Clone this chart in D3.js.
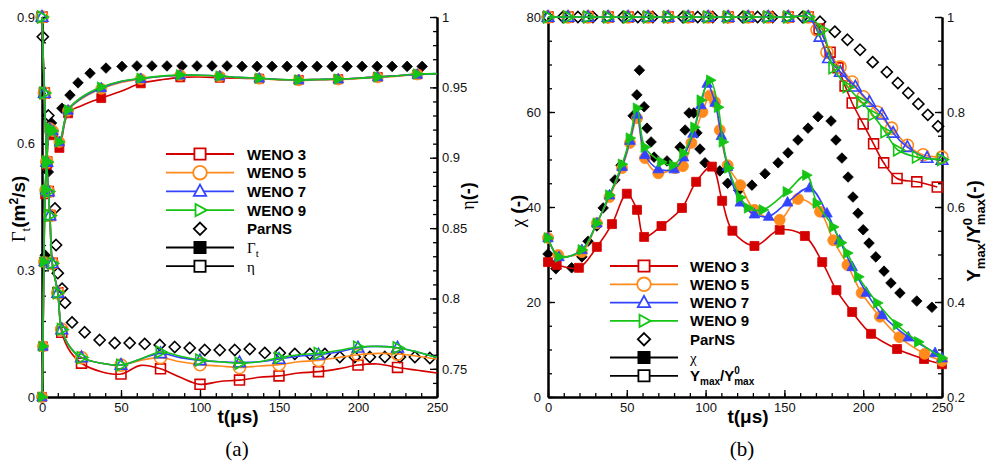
<!DOCTYPE html>
<html><head><meta charset="utf-8">
<script src="https://cdn.jsdelivr.net/npm/d3@7"></script>
<style>body{margin:0;background:#fff}svg{display:block}</style>
</head><body><svg id="c" width="993" height="462"></svg>
<script>
// ---------------- DATA: panel (a) ----------------
const tGammaWeno = [0, 0.6, 1.2, 2, 3, 5, 7, 9, 11, 16.5, 25, 37.5, 50, 62.5, 75, 87.5, 100, 112.5, 125, 137.5, 150, 162.5, 175, 187.5, 200, 212.5, 225, 237.5, 250];
const gammaW3 = [0, 0.12, 0.32, 0.48, 0.55, 0.63, 0.62, 0.60, 0.59, 0.672, 0.69, 0.708, 0.724, 0.743, 0.751, 0.757, 0.758, 0.756, 0.755, 0.754, 0.752, 0.751, 0.752, 0.753, 0.755, 0.758, 0.761, 0.764, 0.765];
const gammaW5 = [0, 0.12, 0.32, 0.49, 0.557, 0.637, 0.63, 0.61, 0.604, 0.678, 0.706, 0.73, 0.745, 0.753, 0.759, 0.762, 0.761, 0.759, 0.756, 0.754, 0.751, 0.750, 0.751, 0.752, 0.754, 0.757, 0.760, 0.764, 0.765];
const gammaW7 = [0, 0.12, 0.32, 0.49, 0.557, 0.637, 0.63, 0.61, 0.604, 0.679, 0.708, 0.732, 0.747, 0.754, 0.759, 0.762, 0.762, 0.760, 0.757, 0.755, 0.752, 0.751, 0.752, 0.753, 0.755, 0.758, 0.761, 0.764, 0.766];
const gammaW9 = [0, 0.12, 0.32, 0.49, 0.557, 0.637, 0.63, 0.61, 0.604, 0.68, 0.71, 0.734, 0.748, 0.755, 0.76, 0.763, 0.762, 0.760, 0.757, 0.755, 0.752, 0.751, 0.752, 0.753, 0.755, 0.758, 0.761, 0.765, 0.766];
const gammaMarkT = [0, 0.6, 1.2, 2, 3, 5, 7, 11, 16.5, 37.5, 62.5, 87.5, 112.5, 137.5, 162.5, 187.5, 212.5, 237.5];

const tEtaWeno = [0, 1.5, 3, 4, 5, 6.5, 10, 12.5, 18, 25, 37.5, 50, 62.5, 75, 87.5, 100, 112.5, 125, 137.5, 150, 162.5, 175, 187.5, 200, 212.5, 225, 237.5, 250];
const etaW3 = [1.0, 0.946, 0.897, 0.876, 0.859, 0.825, 0.804, 0.776, 0.762, 0.754, 0.748, 0.7463, 0.7525, 0.750, 0.744, 0.739, 0.741, 0.742, 0.744, 0.745, 0.747, 0.748, 0.750, 0.7527, 0.7535, 0.751, 0.749, 0.747];
const etaW5 = [1.0, 0.946, 0.897, 0.876, 0.859, 0.825, 0.804, 0.778, 0.765, 0.758, 0.754, 0.7527, 0.756, 0.758, 0.755, 0.753, 0.752, 0.751, 0.752, 0.753, 0.755, 0.756, 0.758, 0.760, 0.761, 0.7605, 0.759, 0.757];
const etaW7 = [1.0, 0.946, 0.897, 0.876, 0.859, 0.825, 0.804, 0.778, 0.765, 0.758, 0.754, 0.7527, 0.757, 0.761, 0.758, 0.756, 0.755, 0.7545, 0.755, 0.757, 0.759, 0.760, 0.762, 0.765, 0.766, 0.765, 0.762, 0.758];
const etaW9 = [1.0, 0.946, 0.897, 0.876, 0.859, 0.825, 0.804, 0.778, 0.765, 0.758, 0.754, 0.7527, 0.757, 0.762, 0.759, 0.7563, 0.755, 0.754, 0.755, 0.758, 0.760, 0.761, 0.763, 0.7655, 0.766, 0.765, 0.762, 0.758];
const etaMarkT = [0, 1.5, 3, 4, 5, 6.5, 10, 12.5, 25, 50, 75, 100, 125, 150, 175, 200, 225];

const tGammaPar = [0, 0.7, 2, 4, 6, 12.6, 17.7, 22.8, 30.4, 40.5, 50.6, 60.1, 69.6, 79.1, 88.6, 98.1, 107.6, 117.1, 126.6, 136.1, 145.6, 155.1, 164.6, 174.1, 183.6, 193.1, 202.6, 212.1, 221.6, 231.1, 240.6];
const gammaPar = [0, 0.12, 0.336, 0.533, 0.649, 0.684, 0.715, 0.744, 0.767, 0.779, 0.783, 0.784, 0.784, 0.784, 0.784, 0.784, 0.784, 0.784, 0.783, 0.783, 0.783, 0.783, 0.783, 0.783, 0.783, 0.783, 0.783, 0.783, 0.783, 0.783, 0.783];
const tEtaPar = [0.5, 4, 8.2, 8.9, 10, 12.7, 14.6, 19, 27, 36.5, 46, 55.5, 65, 74.5, 84, 93.5, 103, 112.5, 122, 131.5, 141, 150.5, 160, 169.5, 179, 188.5, 198, 207.5, 217, 226.5, 236, 245.5];
const etaPar = [0.986, 0.93, 0.864, 0.838, 0.818, 0.807, 0.797, 0.783, 0.776, 0.7705, 0.7684, 0.7684, 0.7677, 0.767, 0.7655, 0.7648, 0.7634, 0.7634, 0.7634, 0.7641, 0.7613, 0.7613, 0.7606, 0.7606, 0.7606, 0.7584, 0.7584, 0.7584, 0.7584, 0.7584, 0.7584, 0.7577];

// ---------------- DATA: panel (b) ----------------
const tChiW3 = [0, 5.5, 19.6, 31, 40.6, 50, 56.5, 61, 72, 85, 94, 104, 110.5, 117, 131, 147, 163, 174, 183, 193, 205, 221.5, 238.6, 250];
const chiW3 = [28.4, 27.8, 27.2, 31.6, 36.4, 42.8, 39.4, 33.7, 36, 39.8, 45.3, 48.5, 41.3, 35, 31.8, 35.2, 33.9, 28.4, 22.5, 17.9, 13.3, 10.1, 8.0, 6.9];
const tChiW5 = [0, 6.5, 21.5, 31, 39, 47, 52, 56.5, 61.5, 70, 80.6, 85.6, 91, 98, 102.8, 106, 109, 114, 122, 131, 147, 158.6, 172.6, 181, 190, 199, 210.6, 223, 239, 250];
const chiW5 = [33.5, 29.9, 30.5, 36.6, 42.1, 48.2, 53.5, 58.7, 50.3, 47.1, 48.2, 48.6, 53.5, 60, 63.5, 62.1, 56.2, 48.8, 44.6, 39.4, 37.3, 41.7, 39, 33, 27.8, 21.9, 16.9, 12.6, 9.1, 7.6];
const tChiW7 = [0, 7, 21.5, 31, 39, 47, 52, 56.5, 61.5, 70, 80, 86, 92, 97, 101, 106, 110, 114, 122, 131, 140, 152, 166, 177, 185, 193, 202, 212, 228.6, 245.6, 250];
const chiW7 = [33.5, 29.5, 31, 36.6, 42.5, 48.5, 54, 59.5, 51, 48, 48, 50.5, 55.5, 61.5, 66, 62, 55, 48.5, 41, 38.5, 38, 41, 44, 38.7, 33, 27.4, 22, 17.3, 12.6, 9.3, 8.2];
const tChiW9 = [0, 7, 21.5, 31, 39, 47, 52, 56.5, 61.5, 72, 79.4, 86, 93, 97, 103, 108, 111, 114.5, 122, 127, 136.4, 151.6, 164, 170.6, 181, 186, 190, 197, 209, 221.5, 235, 250];
const chiW9 = [33.5, 29.5, 31, 36.6, 42.5, 49, 54.5, 60.8, 52.6, 49.5, 48.8, 51.3, 56.8, 62.5, 66.7, 61, 53.7, 48.2, 42, 39.8, 39.4, 43.2, 46.7, 40.8, 35.8, 32.5, 30.3, 25.3, 19.8, 15.2, 11.6, 8.2];
const tChiPar = [0, 5, 15, 21.5, 25.4, 31, 35, 42.5, 46.3, 54, 56.4, 58, 61, 62.8, 65.4, 67.3, 75.5, 83.8, 87, 89.5, 92.5, 94.5, 96.4, 99.6, 109, 114, 121, 129.4, 137.7, 146, 152.3, 158.6, 165, 171.3, 179.6, 182.7, 186.5, 190.4, 193.5, 196.7, 200, 203.7, 208, 213.2, 217.6, 223.3, 234, 243.6];
const chiPar = [30.1, 27, 27.2, 29.5, 32.8, 36, 39.8, 45.7, 48.8, 59.2, 63.6, 68.8, 61.1, 56.6, 53.7, 50.5, 49.7, 52.6, 56.2, 59.8, 59.8, 55.6, 52.2, 49.3, 47.6, 45, 43.5, 44.6, 47, 49.3, 51.4, 54.1, 56.6, 59, 58.1, 54.1, 50.3, 46.3, 42.1, 38.7, 35.2, 32.4, 29.5, 26.5, 24, 21.9, 20.2, 18.9];

const tYW3 = [0, 12.7, 25.4, 38.1, 50.8, 63.5, 76.2, 88.9, 101.6, 114.3, 127, 139.7, 152.4, 165.1, 172, 179, 184, 188.5, 193, 200, 206.6, 213, 221.5, 234, 247];
const yW3 = [1, 1, 1, 1, 1, 1, 1, 1, 1, 1, 1, 1, 1, 1, 0.975, 0.926, 0.893, 0.855, 0.819, 0.775, 0.733, 0.693, 0.66, 0.653, 0.642];
const tYW5 = [0, 12.7, 25.4, 38.1, 50.8, 63.5, 76.2, 88.9, 101.6, 114.3, 127, 139.7, 152.4, 165.1, 170.7, 177, 185.3, 193, 200, 208.7, 218, 228, 238, 250];
const yW5 = [1, 1, 1, 1, 1, 1, 1, 1, 1, 1, 1, 1, 1, 1, 0.973, 0.926, 0.895, 0.863, 0.832, 0.80, 0.766, 0.73, 0.71, 0.705];
const tYW7 = [0, 12.7, 25.4, 38.1, 50.8, 63.5, 76.2, 88.9, 101.6, 114.3, 127, 139.7, 152.4, 165.1, 172.6, 178, 185.5, 195, 204, 212, 219, 228, 240.5, 250];
const yW7 = [1, 1, 1, 1, 1, 1, 1, 1, 1, 1, 1, 1, 1, 1, 0.958, 0.913, 0.884, 0.853, 0.821, 0.794, 0.756, 0.726, 0.703, 0.699];
const tYW9 = [0, 12.7, 25.4, 38.1, 50.8, 63.5, 76.2, 88.9, 101.6, 114.3, 127, 139.7, 152.4, 165.1, 174, 181, 190, 199, 206, 214, 222, 234, 250];
const yW9 = [1, 1, 1, 1, 1, 1, 1, 1, 1, 1, 1, 1, 1, 1, 0.973, 0.893, 0.853, 0.821, 0.794, 0.758, 0.72, 0.705, 0.70];
const tYPar = [0, 9.5, 19, 28.5, 38, 47.5, 57, 66.5, 76, 85.5, 95, 104.5, 114, 123.5, 133, 142.5, 152, 161.5, 172.6, 182, 190, 198, 206, 215, 222, 228.6, 235, 241, 247.5];
const yPar = [1, 1, 1, 1, 1, 1, 1, 1, 1, 1, 1, 1, 1, 1, 1, 1, 1, 1, 0.99, 0.969, 0.952, 0.931, 0.905, 0.884, 0.861, 0.84, 0.817, 0.794, 0.77];

// ---------------- TICKS / LABELS ----------------
const xTicks = [0, 50, 100, 150, 200, 250];
const xTickLabels = ["0", "50", "100", "150", "200", "250"];
const aLeftTicks = [0, 0.3, 0.6, 0.9];
const aLeftLabels = ["0", "0.3", "0.6", "0.9"];
const aRightTicks = [0.75, 0.8, 0.85, 0.9, 0.95, 1];
const aRightLabels = ["0.75", "0.8", "0.85", "0.9", "0.95", "1"];
const bLeftTicks = [0, 20, 40, 60, 80];
const bLeftLabels = ["0", "20", "40", "60", "80"];
const bRightTicks = [0.2, 0.4, 0.6, 0.8, 1];
const bRightLabels = ["0.2", "0.4", "0.6", "0.8", "1"];
const seriesNames = ["WENO 3", "WENO 5", "WENO 7", "WENO 9", "ParNS"];

// ---------------- DRAWING ----------------
const svg = d3.select("#c");
const SANS = "'Liberation Sans', Arial, Helvetica, sans-serif";
const SERIF = "'Liberation Serif', 'DejaVu Serif', serif";
const COL = ["#d40000", "#ff8a1c", "#3344ff", "#15c415", "#000000"];
const SHAPE = ["square", "circle", "triUp", "triRight", "diamond"];
const Y0 = 397, Y1 = 17;

function mpath(type, h) {
  switch (type) {
    case "square": return `M${-h},${-h}H${h}V${h}H${-h}Z`;
    case "circle": return `M${h},0A${h},${h} 0 1,1 ${-h},0A${h},${h} 0 1,1 ${h},0Z`;
    case "triUp": return `M0,${-h*1.2}L${h*1.1},${h*0.8}L${-h*1.1},${h*0.8}Z`;
    case "triRight": return `M${h*1.2},0L${-h*0.8},${h*1.1}L${-h*0.8},${-h*1.1}Z`;
    case "diamond": return `M0,${-h*1.1}L${h*1.1},0L0,${h*1.1}L${-h*1.1},0Z`;
  }
}
const hSize = {square: 4.5, circle: 5.5, triUp: 4.8, triRight: 4.8, diamond: 4.8};

function drawSeries(g, x, y, ts, vs, opt) {
  const pts = ts.map((t, i) => [t, vs[i]]);
  if (opt.line) {
    g.append("path").datum(pts)
      .attr("d", d3.line().x(d => x(d[0])).y(d => y(d[1])).curve(d3.curveCatmullRom.alpha(0.5)))
      .attr("fill", "none").attr("stroke", opt.color).attr("stroke-width", 1.6);
  }
  const mk = opt.markT ? pts.filter(p => opt.markT.includes(p[0])) : pts;
  g.selectAll(null).data(mk).enter().append("path")
    .attr("transform", d => `translate(${x(d[0])},${y(d[1])})`)
    .attr("d", mpath(opt.shape, hSize[opt.shape] * (opt.scale || 1)))
    .attr("fill", opt.filled ? opt.color : "none")
    .attr("stroke", opt.color).attr("stroke-width", opt.filled ? 0.8 : 1.6);
}

function axes(cfg) {
  const g = svg.append("g");
  const x = d3.scaleLinear().domain([0, 250]).range([cfg.x0, cfg.x1]);
  const yL = d3.scaleLinear().domain(cfg.lDom).range([Y0, Y1]);
  const yR = d3.scaleLinear().domain(cfg.rDom).range([Y0, Y1]);
  const style = sel => {
    sel.selectAll("path.domain").attr("stroke", "#000").attr("stroke-width", 2);
    sel.selectAll(".tick line").attr("stroke", "#000").attr("stroke-width", 1.3);
    sel.selectAll("text").attr("font-family", SANS).attr("font-size", 13).attr("fill", "#111");
  };
  g.append("g").attr("transform", `translate(0,${Y0})`)
    .call(d3.axisBottom(x).tickValues(d3.range(0, 251, 10)).tickSize(-4).tickSizeOuter(0).tickFormat(""))
    .call(style);
  g.append("g").attr("transform", `translate(${cfg.x0},0)`)
    .call(d3.axisLeft(yL).tickValues(cfg.lMinor).tickSize(-4).tickSizeOuter(0).tickFormat(""))
    .call(style);
  g.append("g").attr("transform", `translate(${cfg.x1},0)`)
    .call(d3.axisRight(yR).tickValues(cfg.rMinor).tickSize(-4).tickSizeOuter(0).tickFormat(""))
    .call(style);
  g.append("g").attr("transform", `translate(0,${Y0})`)
    .call(d3.axisBottom(x).tickValues(xTicks).tickSize(-7).tickSizeOuter(0).tickPadding(6).tickFormat((d, i) => xTickLabels[i]))
    .call(style);
  g.append("g").attr("transform", `translate(${cfg.x0},0)`)
    .call(d3.axisLeft(yL).tickValues(cfg.lTicks).tickSize(-7).tickSizeOuter(0).tickPadding(7).tickFormat((d, i) => cfg.lLabels[i]))
    .call(style);
  g.append("g").attr("transform", `translate(${cfg.x1},0)`)
    .call(d3.axisRight(yR).tickValues(cfg.rTicks).tickSize(-7).tickSizeOuter(0).tickPadding(5).tickFormat((d, i) => cfg.rLabels[i]))
    .call(style);
  return {x, yL, yR};
}

function legend(lx0, lx1, ly0, dy, tx, rows) {
  const g = svg.append("g");
  rows.forEach((r, i) => {
    const y = ly0 + i * dy, mx = (lx0 + lx1) / 2;
    if (r.line) g.append("line").attr("x1", lx0).attr("x2", lx1).attr("y1", y).attr("y2", y)
      .attr("stroke", r.color).attr("stroke-width", 1.8);
    g.append("path").attr("transform", `translate(${mx},${y})`)
      .attr("d", mpath(r.shape, r.shape === "circle" ? 6.8 : 5.6))
      .attr("fill", r.filled ? r.color : "#fff").attr("stroke", r.color).attr("stroke-width", 1.8);
    const t = g.append("text").attr("x", tx).attr("y", y + 5.5).attr("font-family", SANS)
      .attr("font-size", 15).attr("fill", "#000");
    r.text(t);
  });
}

// ---------- Panel (a) ----------
const A = axes({x0: 42, x1: 437, lDom: [0, 0.9], rDom: [0.73, 1],
  lTicks: aLeftTicks, lLabels: aLeftLabels, lMinor: d3.range(0, 0.901, 0.06),
  rTicks: aRightTicks, rLabels: aRightLabels, rMinor: d3.range(0.73, 1.0001, 0.01)});
const gA = svg.append("g");
drawSeries(gA, A.x, A.yR, tEtaPar, etaPar, {color: "#000", shape: "diamond", filled: false, scale: 1.05});
drawSeries(gA, A.x, A.yL, tGammaPar, gammaPar, {color: "#000", shape: "diamond", filled: true});
const aGam = [gammaW3, gammaW5, gammaW7, gammaW9];
const aEta = [etaW3, etaW5, etaW7, etaW9];
for (let k = 0; k < 4; k++) {
  drawSeries(gA, A.x, A.yR, tEtaWeno, aEta[k], {line: true, color: COL[k], shape: SHAPE[k], filled: false, markT: etaMarkT, scale: 1.1});
  drawSeries(gA, A.x, A.yL, tGammaWeno, aGam[k], {line: true, color: COL[k], shape: SHAPE[k], filled: true, markT: gammaMarkT});
}

// ---------- Panel (b) ----------
const B = axes({x0: 548, x1: 942, lDom: [0, 80], rDom: [0.2, 1],
  lTicks: bLeftTicks, lLabels: bLeftLabels, lMinor: d3.range(0, 80.1, 5),
  rTicks: bRightTicks, rLabels: bRightLabels, rMinor: d3.range(0.2, 1.0001, 0.05)});
const gB = svg.append("g");
drawSeries(gB, B.x, B.yR, tYPar, yPar, {color: "#000", shape: "diamond", filled: false, scale: 1.05});
drawSeries(gB, B.x, B.yL, tChiPar, chiPar, {color: "#000", shape: "diamond", filled: true});
const bT = [[tChiW3, chiW3, tYW3, yW3], [tChiW5, chiW5, tYW5, yW5], [tChiW7, chiW7, tYW7, yW7], [tChiW9, chiW9, tYW9, yW9]];
for (let k = 0; k < 4; k++) {
  drawSeries(gB, B.x, B.yR, bT[k][2], bT[k][3], {line: true, color: COL[k], shape: SHAPE[k], filled: false, scale: 1.1});
  drawSeries(gB, B.x, B.yL, bT[k][0], bT[k][1], {line: true, color: COL[k], shape: SHAPE[k], filled: true});
}

// ---------- Legends ----------
function wenoRows(extra) {
  const rows = seriesNames.map((n, k) => ({line: k < 4, color: COL[k], shape: SHAPE[k], filled: false,
    text: t => t.attr("font-weight", "bold").text(n)}));
  return rows.concat(extra);
}
legend(166, 234, 154, 18.7, 247, wenoRows([
  {line: true, color: "#000", shape: "square", filled: true,
   text: t => { t.append("tspan").attr("font-family", SERIF).text("Γ"); t.append("tspan").attr("font-family", SERIF).attr("font-size", 11).attr("dy", 4).text("t"); }},
  {line: true, color: "#000", shape: "square", filled: false,
   text: t => { t.append("tspan").attr("font-family", SERIF).text("η"); }}
]));
legend(610, 678, 266, 18.3, 690, wenoRows([
  {line: true, color: "#000", shape: "square", filled: true,
   text: t => { t.append("tspan").attr("font-family", SERIF).text("χ"); }},
  {line: true, color: "#000", shape: "square", filled: false,
   text: t => { t.attr("font-weight", "bold");
     t.append("tspan").text("Y"); t.append("tspan").attr("font-size", 10).attr("dy", 4).text("max");
     t.append("tspan").attr("dy", -4).text("/Y"); t.append("tspan").attr("font-size", 10).attr("dy", -7).text("0");
     t.append("tspan").attr("font-size", 10).attr("dx", -5.6).attr("dy", 11).text("max"); }}
]));

// ---------- Axis titles ----------
function vtitle(x, y, build, fs) {
  const t = svg.append("text").attr("transform", `translate(${x},${y}) rotate(-90)`)
    .attr("text-anchor", "middle").attr("font-family", SANS).attr("font-size", fs || 19).attr("fill", "#000");
  build(t);
}
vtitle(25, 209, t => {
  t.append("tspan").attr("font-family", SERIF).text("Γ");
  t.append("tspan").attr("font-family", SERIF).attr("font-size", 13).attr("dy", 5).text("t");
  t.append("tspan").attr("font-weight", "bold").attr("dy", -5).text("(m");
  t.append("tspan").attr("font-weight", "bold").attr("font-size", 12).attr("dy", -7).text("2");
  t.append("tspan").attr("font-weight", "bold").attr("dy", 7).text("/s)");
});
vtitle(474, 196, t => {
  t.append("tspan").attr("font-family", SERIF).text("η");
  t.append("tspan").attr("font-weight", "bold").text("(-)");
}, 18);
vtitle(524, 211, t => {
  t.append("tspan").attr("font-family", SERIF).text("χ");
  t.append("tspan").attr("font-weight", "bold").text(" (-)");
});
vtitle(980, 231, t => {
  t.attr("font-weight", "bold");
  t.append("tspan").text("Y"); t.append("tspan").attr("font-size", 13).attr("dy", 5).text("max");
  t.append("tspan").attr("dy", -5).text("/Y"); t.append("tspan").attr("font-size", 13).attr("dy", -8).text("0");
  t.append("tspan").attr("font-size", 13).attr("dx", -7.2).attr("dy", 13).text("max");
  t.append("tspan").attr("dy", -5).text("(-)");
});
function xtitle(cx) {
  svg.append("text").attr("x", cx).attr("y", 423).attr("text-anchor", "middle")
    .attr("font-family", SANS).attr("font-size", 19).attr("font-weight", "bold").text("t(μs)");
}
xtitle(238); xtitle(748);
svg.append("text").attr("x", 237).attr("y", 456).attr("text-anchor", "middle").attr("font-family", SERIF).attr("font-size", 21).text("(a)");
svg.append("text").attr("x", 742).attr("y", 456).attr("text-anchor", "middle").attr("font-family", SERIF).attr("font-size", 21).text("(b)");
</script></body></html>
